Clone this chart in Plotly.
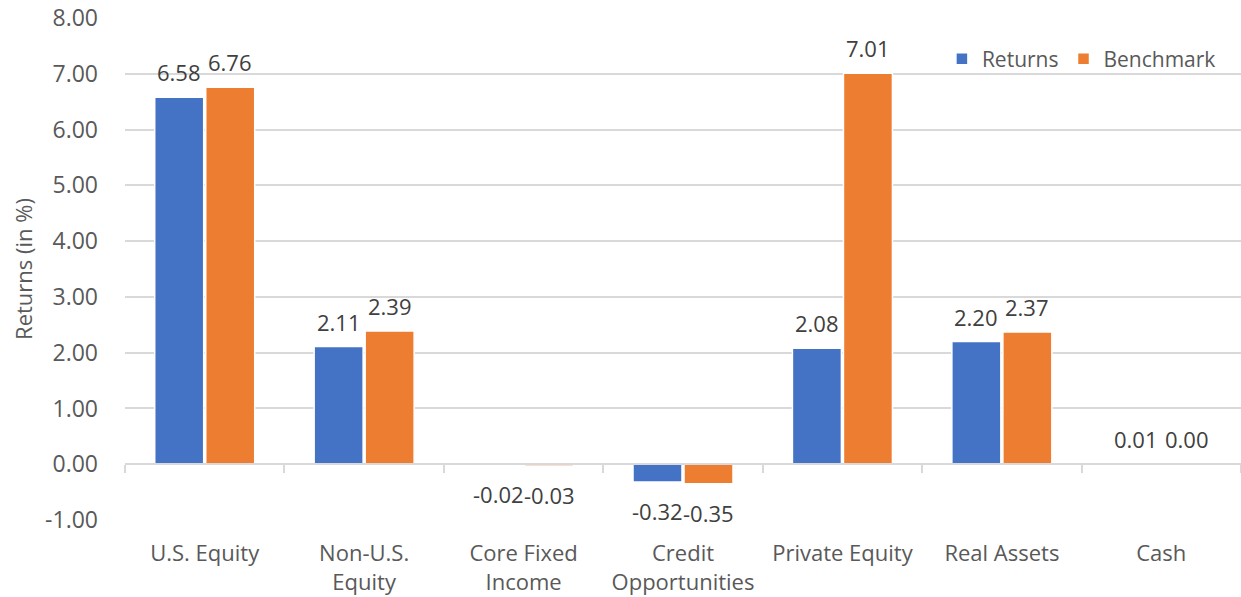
import plotly.graph_objects as go

categories = ["U.S. Equity", "Non-U.S.<br>Equity", "Core Fixed<br>Income", "Credit<br>Opportunities",
              "Private Equity", "Real Assets", "Cash"]
returns = [6.58, 2.11, -0.02, -0.32, 2.08, 2.20, 0.01]
benchmark = [6.76, 2.39, -0.03, -0.35, 7.01, 2.37, 0.00]
series_names = ["Returns", "Benchmark"]
colors = ["#4472C4", "#ED7D31"]
y_ticks = [-1, 0, 1, 2, 3, 4, 5, 6, 7, 8]

FONT = "Open Sans"
TXT = "#404040"
AX = "#595959"
GRID = "#D9D9D9"

BARGAP = 0.36
fig = go.Figure()
for name, vals, col in zip(series_names, [returns, benchmark], colors):
    fig.add_trace(go.Bar(
        x=categories, y=vals, name=name,
        marker=dict(color=col, line=dict(color="white", width=1.5)),
        hoverinfo="x+y",
    ))

# dummy trace for the zero-crossing axis with boundary ticks
fig.add_trace(go.Scatter(x=categories, y=[None] * len(categories), xaxis="x2",
                         showlegend=False, hoverinfo="skip", mode="markers"))

# data labels as annotations placed at bar ends
slot = (1 - BARGAP) / 2
for s, vals in enumerate([returns, benchmark]):
    off = -slot / 2 if s == 0 else slot / 2
    for i, v in enumerate(vals):
        fig.add_annotation(
            x=i + off, y=v, xref="x", yref="y", text=f"{v:.2f}",
            showarrow=False, yanchor="middle", xanchor="center",
            yshift=25 if v >= 0 else -29,
            font=dict(family=FONT, size=22, color=TXT),
        )

fig.update_layout(
    width=1241, height=597,
    margin=dict(l=125, r=0, t=18, b=77, autoexpand=False),
    paper_bgcolor="white", plot_bgcolor="white",
    barmode="group", bargap=BARGAP, bargroupgap=0.04,
    font=dict(family=FONT, size=22, color=AX),
    legend=dict(orientation="h", x=0.982, xanchor="right", y=0.918, yanchor="middle",
                font=dict(family=FONT, size=21, color=AX), bgcolor="rgba(0,0,0,0)",
                itemwidth=30, tracegroupgap=0),
    showlegend=True,
    xaxis=dict(
        type="category", showgrid=False, showline=False, zeroline=False, automargin=False,
        ticks="outside", ticklen=14, tickcolor="rgba(0,0,0,0)",
        tickfont=dict(family=FONT, size=22, color=AX),
        range=[-0.5, 6.5],
    ),
    xaxis2=dict(
        type="category", overlaying="x", anchor="free", position=1 / 9,
        matches="x", showline=True, linecolor=GRID, linewidth=1.5, automargin=False,
        ticks="outside", tickson="boundaries", ticklen=8, tickcolor=GRID, tickwidth=1.5,
        showticklabels=False, showgrid=False, zeroline=False,
    ),
    yaxis=dict(
        range=[-1, 8.002], tickvals=y_ticks, ticktext=[f"{v:.2f}" for v in y_ticks],
        showgrid=True, gridcolor=GRID, gridwidth=1.5, zeroline=False, automargin=False,
        showline=False, ticks="", ticklabelstandoff=26, ticklabeloverflow="allow",
        tickfont=dict(family=FONT, size=23, color=AX),
        title=dict(text="Returns (in %)", font=dict(family=FONT, size=22, color=AX), standoff=6),
    ),
)

# remove the default 8px page margin so the figure fills the window exactly
fig.write_html("out.html", config={"displayModeBar": False},
               post_script="document.body.style.margin='0';")
